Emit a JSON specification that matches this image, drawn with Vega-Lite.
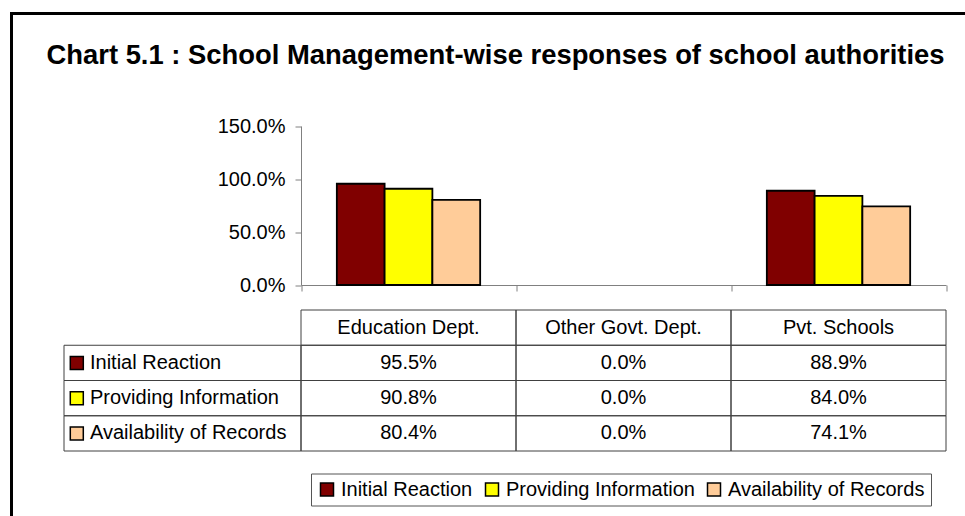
{
  "$schema": "https://vega.github.io/schema/vega-lite/v6.json",
  "width": 963.5,
  "height": 512.5,
  "autosize": {"type": "none"},
  "padding": {"left": 11.5, "top": 13.5, "right": -10, "bottom": -10},
  "background": "white",
  "title": {
    "text": "Chart 5.1 : School Management-wise responses of school authorities",
    "anchor": "start",
    "frame": "group",
    "orient": "top",
    "offset": -78,
    "baseline": "alphabetic",
    "dx": 35,
    "font": "Liberation Sans",
    "fontSize": 27.4,
    "fontWeight": "bold",
    "color": "black"
  },
  "config": {
    "font": "Liberation Sans",
    "view": {"stroke": "black", "strokeWidth": 3, "fill": "white"}
  },
  "data": {
    "values": [
      {"category": "Education Dept.", "series": "Initial Reaction", "value": 0.955},
      {"category": "Education Dept.", "series": "Providing Information", "value": 0.908},
      {"category": "Education Dept.", "series": "Availability of Records", "value": 0.804},
      {"category": "Other Govt. Dept.", "series": "Initial Reaction", "value": 0.0},
      {"category": "Other Govt. Dept.", "series": "Providing Information", "value": 0.0},
      {"category": "Other Govt. Dept.", "series": "Availability of Records", "value": 0.0},
      {"category": "Pvt. Schools", "series": "Initial Reaction", "value": 0.889},
      {"category": "Pvt. Schools", "series": "Providing Information", "value": 0.840},
      {"category": "Pvt. Schools", "series": "Availability of Records", "value": 0.741}
    ]
  },
  "resolve": {"scale": {"x": "independent", "y": "independent"}},
  "layer": [
    {
      "transform": [{"filter": "datum.value > 0"}],
      "mark": {"type": "bar", "stroke": "black", "strokeWidth": 1.8},
      "encoding": {
        "x": {
          "field": "category", "type": "nominal",
          "scale": {"domain": ["Education Dept.", "Other Govt. Dept.", "Pvt. Schools"], "range": [289.5, 934.5], "paddingInner": 0, "paddingOuter": 0},
          "axis": {"orient": "bottom", "offset": -241, "labels": false, "title": null, "tickSize": 6, "tickBand": "extent", "domainColor": "#808080", "tickColor": "#808080", "grid": false}
        },
        "xOffset": {
          "field": "series", "type": "nominal",
          "scale": {"domain": ["Initial Reaction", "Providing Information", "Availability of Records"], "paddingInner": 0, "paddingOuter": 0.75}
        },
        "y": {
          "field": "value", "type": "quantitative",
          "scale": {"domain": [0, 1.5], "range": [271.5, 112.5], "nice": false, "zero": true},
          "axis": {"values": [0, 0.5, 1, 1.5], "format": ".1%", "title": null, "grid": false, "tickSize": 6, "labelPadding": 10, "labelFontSize": 20, "labelColor": "black", "labelFont": "Liberation Sans", "offset": -289.5, "domainColor": "#808080", "tickColor": "#808080"}
        },
        "fill": {
          "field": "series", "type": "nominal",
          "scale": {"domain": ["Initial Reaction", "Providing Information", "Availability of Records"], "range": ["#800000", "#FFFF00", "#FFCC99"]},
          "legend": {"orient": "none", "legendX": 299.5, "legendY": 460, "direction": "horizontal", "title": null, "symbolType": "square", "symbolSize": 169, "symbolStrokeColor": "black", "symbolStrokeWidth": 1.5, "labelFontSize": 20, "labelFont": "Liberation Sans", "labelColor": "black", "labelLimit": 400, "labelOffset": 4, "columnPadding": 9, "padding": 6, "strokeColor": "#555555", "fillColor": "white"}
        }
      }
    },
    {
      "mark": {"type": "rect", "fill": "white", "fillOpacity": 0, "stroke": "#404040", "strokeWidth": 1},
      "encoding": {
        "x": {"field": "category", "type": "nominal", "scale": {"domain": ["Education Dept.", "Other Govt. Dept.", "Pvt. Schools"], "range": [289.5, 934.5], "paddingInner": 0, "paddingOuter": 0}, "axis": null},
        "y": {"field": "series", "type": "nominal", "scale": {"domain": ["header", "Initial Reaction", "Providing Information", "Availability of Records"], "range": [296.5, 437.5], "paddingInner": 0, "paddingOuter": 0}, "axis": null}
      }
    },
    {
      "transform": [{"filter": "datum.series === 'Initial Reaction'"}],
      "mark": {"type": "rect", "fill": "white", "fillOpacity": 0, "stroke": "#404040", "strokeWidth": 1},
      "encoding": {
        "x": {"field": "category", "type": "nominal", "scale": {"domain": ["Education Dept.", "Other Govt. Dept.", "Pvt. Schools"], "range": [289.5, 934.5], "paddingInner": 0, "paddingOuter": 0}, "axis": null},
        "y": {"datum": "header", "type": "nominal", "scale": {"domain": ["header", "Initial Reaction", "Providing Information", "Availability of Records"], "range": [296.5, 437.5], "paddingInner": 0, "paddingOuter": 0}, "axis": null}
      }
    },
    {
      "mark": {"type": "text", "fontSize": 20, "font": "Liberation Sans", "color": "black", "align": "center", "baseline": "middle"},
      "encoding": {
        "x": {"field": "category", "type": "nominal", "scale": {"domain": ["Education Dept.", "Other Govt. Dept.", "Pvt. Schools"], "range": [289.5, 934.5], "paddingInner": 0, "paddingOuter": 0}, "axis": null},
        "y": {"field": "series", "type": "nominal", "scale": {"domain": ["header", "Initial Reaction", "Providing Information", "Availability of Records"], "range": [296.5, 437.5], "paddingInner": 0, "paddingOuter": 0}, "axis": null},
        "text": {"field": "value", "type": "quantitative", "format": ".1%"}
      }
    },
    {
      "transform": [{"filter": "datum.series === 'Initial Reaction'"}],
      "mark": {"type": "text", "fontSize": 20, "font": "Liberation Sans", "color": "black", "align": "center", "baseline": "middle"},
      "encoding": {
        "x": {"field": "category", "type": "nominal", "scale": {"domain": ["Education Dept.", "Other Govt. Dept.", "Pvt. Schools"], "range": [289.5, 934.5], "paddingInner": 0, "paddingOuter": 0}, "axis": null},
        "y": {"datum": "header", "type": "nominal", "scale": {"domain": ["header", "Initial Reaction", "Providing Information", "Availability of Records"], "range": [296.5, 437.5], "paddingInner": 0, "paddingOuter": 0}, "axis": null},
        "text": {"field": "category", "type": "nominal"}
      }
    },
    {
      "transform": [{"filter": "datum.category === 'Education Dept.'"}],
      "mark": {"type": "rect", "fill": "white", "fillOpacity": 0, "stroke": "#404040", "strokeWidth": 1},
      "encoding": {
        "x": {"field": "category", "type": "nominal", "scale": {"domain": ["Education Dept."], "range": [52.5, 289.5], "paddingInner": 0, "paddingOuter": 0}, "axis": null},
        "y": {"field": "series", "type": "nominal", "scale": {"domain": ["header", "Initial Reaction", "Providing Information", "Availability of Records"], "range": [296.5, 437.5], "paddingInner": 0, "paddingOuter": 0}, "axis": null}
      }
    },
    {
      "transform": [{"filter": "datum.category === 'Education Dept.'"}],
      "mark": {"type": "square", "size": 169, "filled": true, "opacity": 1, "stroke": "black", "strokeWidth": 1.5},
      "encoding": {
        "x": {"field": "category", "type": "nominal", "scale": {"domain": ["Education Dept."], "range": [52.5, 78.1], "paddingInner": 0, "paddingOuter": 0}, "axis": null},
        "y": {"field": "series", "type": "nominal", "scale": {"domain": ["header", "Initial Reaction", "Providing Information", "Availability of Records"], "range": [296.5, 437.5], "paddingInner": 0, "paddingOuter": 0}, "axis": null},
        "fill": {"field": "series", "type": "nominal"}
      }
    },
    {
      "transform": [{"filter": "datum.category === 'Education Dept.'"}],
      "mark": {"type": "text", "fontSize": 20, "font": "Liberation Sans", "color": "black", "align": "left", "baseline": "middle"},
      "encoding": {
        "x": {"field": "category", "type": "nominal", "scale": {"domain": ["Education Dept."], "range": [52.5, 104.5], "paddingInner": 0, "paddingOuter": 0}, "axis": null},
        "y": {"field": "series", "type": "nominal", "scale": {"domain": ["header", "Initial Reaction", "Providing Information", "Availability of Records"], "range": [296.5, 437.5], "paddingInner": 0, "paddingOuter": 0}, "axis": null},
        "text": {"field": "series", "type": "nominal"}
      }
    }
  ]
}
